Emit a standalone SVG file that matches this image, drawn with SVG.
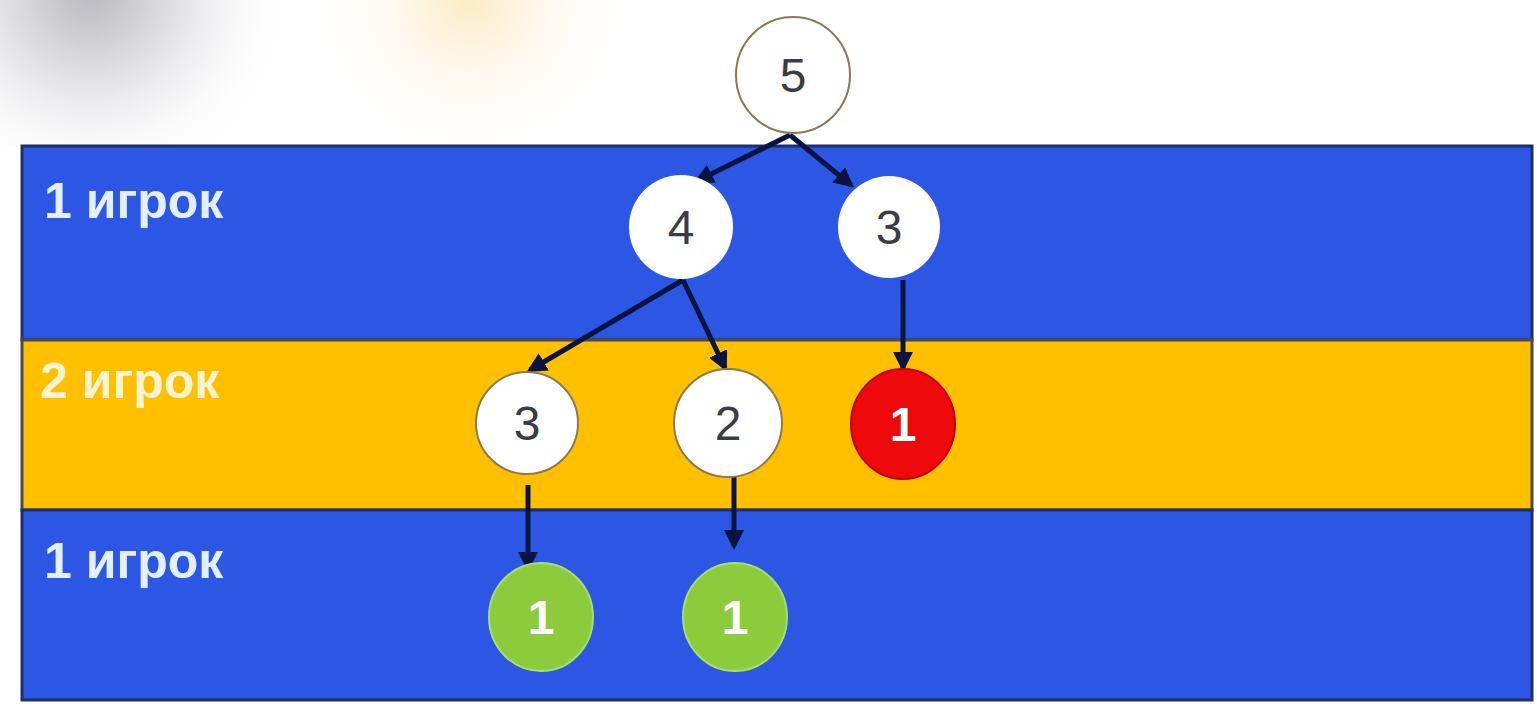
<svg xmlns="http://www.w3.org/2000/svg" width="1537" height="706" viewBox="0 0 1537 706">
  <defs>
    <radialGradient id="swoosh" gradientUnits="userSpaceOnUse" cx="90" cy="-10" r="210">
      <stop offset="0" stop-color="#b8b8be"/>
      <stop offset="0.45" stop-color="#e4e4e8"/>
      <stop offset="1" stop-color="#ffffff" stop-opacity="0"/>
    </radialGradient>
    <radialGradient id="haze" gradientUnits="userSpaceOnUse" cx="470" cy="0" r="170">
      <stop offset="0" stop-color="#fbeac4"/>
      <stop offset="1" stop-color="#ffffff" stop-opacity="0"/>
    </radialGradient>
    <marker id="arr" viewBox="0 0 10 10" refX="8" refY="5" markerWidth="4" markerHeight="4" orient="auto" markerUnits="strokeWidth">
      <path d="M0,0 L10,5 L0,10 z" fill="#0b1440"/>
    </marker>
    <style>
      .band-blue { fill: #2c57e4; stroke: #1e2f6a; stroke-width: 3; }
      .band-orange { fill: #ffc000; stroke: #4a4a4a; stroke-width: 3; }
      .lbl { font-family: "Liberation Sans", Arial, sans-serif; font-size: 50px; font-weight: bold; fill: #e4f0ff; }
      .lbl2 { fill: #fff4d0; }
      .wnode { fill: #ffffff; stroke: #8a7a50; stroke-width: 2; }
      .wplain { fill: #ffffff; stroke: none; }
      .rnode { fill: #ee0a0a; stroke: #c00000; stroke-width: 2; }
      .gnode { fill: #8ccc3c; stroke: #a8dc70; stroke-width: 2; }
      .num { font-family: "Liberation Sans", Arial, sans-serif; font-size: 48px; fill: #3c3c46; text-anchor: middle; }
      .numw { fill: #ffffff; font-weight: bold; }
      .edge { stroke: #0b1440; stroke-width: 5; fill: none; marker-end: url(#arr); }
    </style>
  </defs>
  <rect x="0" y="0" width="1537" height="706" fill="#ffffff"/>
  <rect x="0" y="0" width="700" height="146" fill="url(#swoosh)"/>
  <rect x="250" y="0" width="450" height="146" fill="url(#haze)"/>

  <g id="bands">
    <rect class="band-blue" x="22" y="146" width="1510" height="194"/>
    <rect class="band-orange" x="22" y="340" width="1510" height="170"/>
    <rect class="band-blue" x="22" y="510" width="1510" height="190"/>
    <text class="lbl" x="44" y="218">1 игрок</text>
    <text class="lbl lbl2" x="40" y="398">2 игрок</text>
    <text class="lbl" x="44" y="578">1 игрок</text>
  </g>

  <g id="connectors">
    <line class="edge" x1="790" y1="135" x2="697" y2="181"/>
    <line class="edge" x1="790" y1="135" x2="851" y2="185"/>
    <line class="edge" x1="683" y1="280" x2="530" y2="370"/>
    <line class="edge" x1="683" y1="280" x2="725" y2="368"/>
    <line class="edge" x1="903" y1="280" x2="903" y2="368"/>
    <line class="edge" x1="528" y1="485" x2="528" y2="568"/>
    <line class="edge" x1="734" y1="460" x2="734" y2="546"/>
  </g>

  <g id="n5">
    <ellipse class="wnode" cx="793" cy="75" rx="57" ry="58"/>
    <text class="num" x="793" y="92">5</text>
  </g>
  <g id="n4">
    <circle class="wplain" cx="681" cy="227" r="52"/>
    <text class="num" x="681" y="244">4</text>
  </g>
  <g id="n3a">
    <circle class="wplain" cx="889" cy="227" r="51"/>
    <text class="num" x="889" y="244">3</text>
  </g>
  <g id="n3b">
    <circle class="wnode" cx="527" cy="423" r="51"/>
    <text class="num" x="527" y="440">3</text>
  </g>
  <g id="n2">
    <circle class="wnode" cx="728" cy="423" r="54"/>
    <text class="num" x="728" y="440">2</text>
  </g>
  <g id="n1r">
    <ellipse class="rnode" cx="903" cy="424" rx="52" ry="55"/>
    <text class="num numw" x="903" y="441">1</text>
  </g>
  <g id="n1g1">
    <ellipse class="gnode" cx="541" cy="617" rx="52" ry="54"/>
    <text class="num numw" x="541" y="634">1</text>
  </g>
  <g id="n1g2">
    <ellipse class="gnode" cx="735" cy="617" rx="52" ry="54"/>
    <text class="num numw" x="735" y="634">1</text>
  </g>
</svg>
